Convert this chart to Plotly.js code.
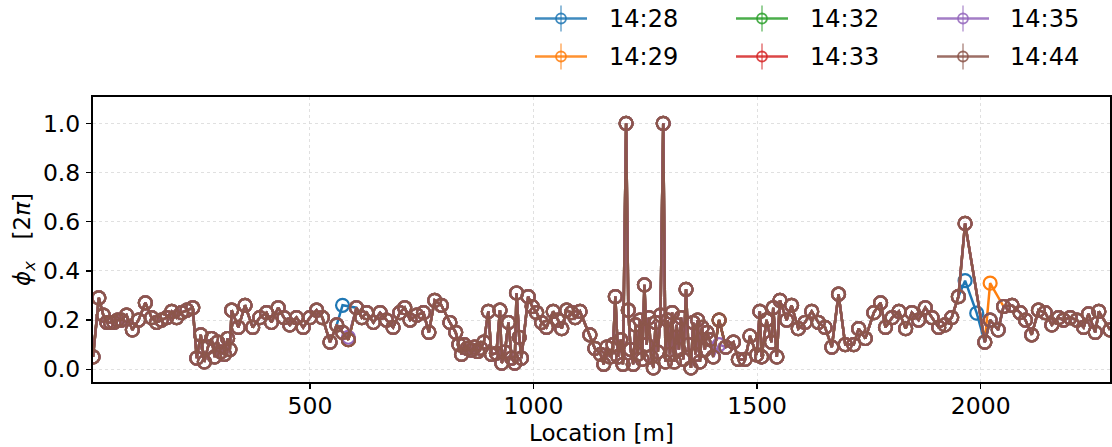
<!DOCTYPE html>
<html>
<head>
<meta charset="utf-8">
<script src="https://cdn.plot.ly/plotly-3.0.1.min.js"></script>
<style>html,body{margin:0;padding:0;background:#fff;}#chart{width:1112px;height:447px;}</style>
</head>
<body>
<div id="chart"></div>
<script>
// ---- Data ----
const location_m = [15,28,38,46,54,62,70,78,90,103,117,132,146,157,168,180,191,202,213,225,238,
247,256,264,272,280,287,294,301,309,316,321,325,340,355,372,388,403,414,429,442,455,470,485,500,515,528,
545,560,573,586,604,616,627,642,657,671,686,701,712,724,739,754,766,779,794,813,826,833,839,845,852,861,
868,875,882,889,899,906,917,925,929,936,944,951,958,962,968,973,988,997,1007,1018,1029,1044,1055,1063,
1074,1085,1093,1104,1126,1137,1150,1157,1164,1171,1178,1183,1189,1195,1200,1207,1212,1217,1223,1228,
1233,1238,1243,1248,1253,1258,1263,1268,1273,1278,1284,1290,1295,1300,1305,1310,1315,1320,1325,1330,
1335,1341,1346,1352,1357,1362,1367,1372,1377,1383,1388,1394,1402,1415,1430,1447,1458,1473,1484,1499,
1506,1510,1521,1532,1536,1544,1551,1566,1577,1592,1607,1622,1637,1652,1667,1682,1697,1716,1727,1742,
1761,1776,1787,1802,1817,1832,1846,1861,1876,1891,1906,1920,1935,1950,1965,1991,2009,2021,2039,2051,
2070,2088,2100,2114,2129,2144,2159,2174,2185,2200,2215,2230,2241,2256,2264,2289];

const phi_1444 = [0.05,0.29,0.22,0.19,0.19,0.19,0.20,0.20,0.22,0.16,0.20,0.27,0.21,0.19,0.20,0.21,0.235,0.21,0.23,0.24,0.25,
0.045,0.14,0.03,0.09,0.125,0.05,0.11,0.07,0.06,0.125,0.08,0.24,0.17,0.26,0.17,0.21,0.23,0.19,0.25,0.21,0.18,0.21,0.17,0.21,0.24,0.21,
0.11,0.18,0.15,0.12,0.25,0.21,0.23,0.19,0.23,0.20,0.17,0.23,0.25,0.20,0.22,0.23,0.15,0.28,0.26,0.19,0.15,0.10,0.06,0.10,0.085,0.078,
0.09,0.072,0.085,0.11,0.235,0.06,0.065,0.24,0.025,0.07,0.19,0.045,0.025,0.31,0.13,0.045,0.295,0.255,0.23,0.19,0.17,0.235,0.20,0.165,
0.24,0.23,0.21,0.235,0.14,0.085,0.06,0.02,0.09,0.05,0.10,0.295,0.05,0.12,0.02,1.0,0.24,0.08,0.02,0.18,
0.06,0.20,0.04,0.343,0.10,0.21,0.05,0.005,0.19,0.07,0.22,1.0,0.03,0.20,0.06,0.23,0.03,0.18,0.08,0.21,
0.04,0.325,0.10,0.005,0.19,0.06,0.20,0.03,0.17,0.08,0.15,0.12,0.05,0.20,0.09,0.11,0.04,0.04,0.135,0.058,
0.235,0.05,0.20,0.11,0.25,0.05,0.28,0.20,0.26,0.165,0.19,0.235,0.19,0.17,0.09,0.305,0.10,0.10,0.165,0.125,
0.23,0.27,0.17,0.21,0.235,0.165,0.23,0.20,0.25,0.21,0.17,0.18,0.21,0.295,0.593,null,0.11,0.20,0.16,0.255,
0.26,0.23,0.20,0.14,0.24,0.23,0.18,0.21,0.20,0.21,0.20,0.17,0.225,0.15,0.235,0.16];

// Other scans coincide with 14:44 except at these locations
const diff_1428_loc = [573, 586, 1965, 1991];
const diff_1428_val = [0.26, null, 0.36, 0.228];
const diff_1429_loc = [2021, 2039];
const diff_1429_val = [0.35, null];
const diff_1432_loc = [];
const diff_1432_val = [];
const diff_1433_loc = [];
const diff_1433_val = [];
const diff_1435_loc = [586, 1415];
const diff_1435_val = [0.13, 0.10];

const scan_labels = ['14:28','14:29','14:32','14:33','14:35','14:44'];
const scan_colors = ['#1f77b4','#ff7f0e','#2ca02c','#d62728','#9467bd','#8c564b'];

const xTickVals = [500, 1000, 1500, 2000];
const yTickVals = [0.0, 0.2, 0.4, 0.6, 0.8, 1.0];
const yTickText = ['0.0','0.2','0.4','0.6','0.8','1.0'];

function withDiff(base, locs, vals) {
  const out = base.slice();
  locs.forEach((L, i) => { const k = location_m.indexOf(L); if (k >= 0) out[k] = vals[i]; });
  return out;
}

const seriesY = [
  withDiff(phi_1444, diff_1428_loc, diff_1428_val),
  withDiff(phi_1444, diff_1429_loc, diff_1429_val),
  withDiff(phi_1444, diff_1432_loc, diff_1432_val),
  withDiff(phi_1444, diff_1433_loc, diff_1433_val),
  withDiff(phi_1444, diff_1435_loc, diff_1435_val),
  phi_1444
];

const traces = seriesY.map((y, i) => ({
  type: 'scatter', mode: 'lines+markers', x: location_m, y: y, name: scan_labels[i],
  connectgaps: true,
  line: {color: scan_colors[i], width: 2.5},
  marker: {symbol: 'circle-open', size: 13, color: scan_colors[i], line: {width: 2.2}},
  showlegend: false
}));

// ---- Layout ----
const W = 1112, H = 447, ML = 93, MR = 2, MT = 97, MB = 65;
const PW = W - ML - MR, PH = H - MT - MB;
const px2x = p => (p - ML) / PW;
const px2y = p => (H - MB - p) / PH;

const shapes = [], annotations = [];
const legCols = [[535, 587, 561, 607], [736, 788, 762, 808], [937, 989, 963, 1008]];
const legRows = [18.5, 56.5];
scan_labels.forEach((lab, i) => {
  const c = legCols[Math.floor(i / 2)], r = legRows[i % 2], col = scan_colors[i];
  shapes.push({type:'line', xref:'paper', yref:'paper', x0:px2x(c[0]), x1:px2x(c[1]), y0:px2y(r), y1:px2y(r), line:{color:col, width:2.5}, opacity:0.85});
  shapes.push({type:'line', xref:'paper', yref:'paper', x0:px2x(c[2]), x1:px2x(c[2]), y0:px2y(r-13), y1:px2y(r+13), line:{color:col, width:1.6}, opacity:0.6});
  shapes.push({type:'circle', xref:'paper', yref:'paper', xsizemode:'pixel', ysizemode:'pixel', xanchor:px2x(c[2]), yanchor:px2y(r), x0:-5, x1:5, y0:-5, y1:5, line:{color:col, width:1.8}, fillcolor:'rgba(0,0,0,0)', opacity:0.85});
  annotations.push({xref:'paper', yref:'paper', x:px2x(c[3]), y:px2y(r), xanchor:'left', yanchor:'middle', text:lab, showarrow:false, font:{size:24, color:'#000', family:'DejaVu Sans'}});
});

const layout = {
  width: W, height: H,
  margin: {l: ML, r: MR, t: MT, b: MB, pad: 0},
  paper_bgcolor: '#fff', plot_bgcolor: '#fff',
  font: {family: 'DejaVu Sans', color: '#000'},
  showlegend: false,
  xaxis: {
    range: [15, 2289], tickvals: xTickVals, ticks: 'outside', ticklen: 5, tickwidth: 1.3, tickcolor: '#000',
    showline: true, mirror: true, linecolor: '#000', linewidth: 2,
    showgrid: true, gridcolor: '#d8d8d8', griddash: '3px,3px', gridwidth: 0.8, zeroline: false,
    tickfont: {size: 23.5, color: '#000'}, ticklabelstandoff: -3,
    title: {text: 'Location [m]', font: {size: 23, color: '#000'}, standoff: 0}
  },
  yaxis: {
    range: [-0.052, 1.107], tickvals: yTickVals, ticktext: yTickText, ticks: 'outside', ticklen: 5, tickwidth: 1.3, tickcolor: '#000',
    showline: true, mirror: true, linecolor: '#000', linewidth: 2,
    showgrid: true, gridcolor: '#d8d8d8', griddash: '3px,3px', gridwidth: 0.8, zeroline: false,
    tickfont: {size: 23.5, color: '#000'}, ticklabelstandoff: 1,
    title: {text: '<i>ϕ</i><sub><i>x</i></sub>   [2<i>π</i>]', font: {size: 23, color: '#000'}, standoff: 6}
  },
  shapes: shapes,
  annotations: annotations
};

Plotly.newPlot('chart', traces, layout, {staticPlot: true, displayModeBar: false});
</script>
</body>
</html>
